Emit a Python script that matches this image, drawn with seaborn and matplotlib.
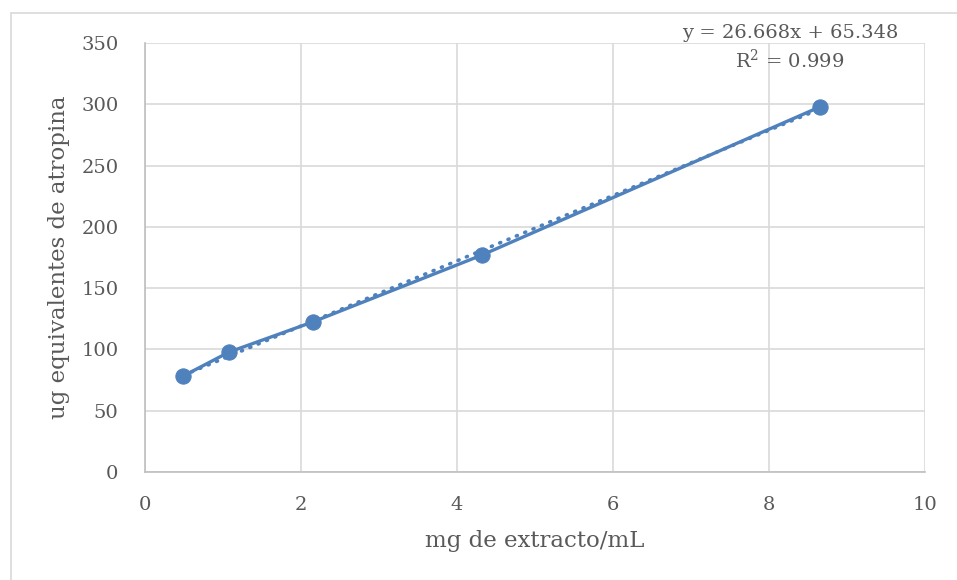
import matplotlib
matplotlib.use("Agg")
import matplotlib.pyplot as plt
import seaborn as sns
import pandas as pd
from matplotlib.lines import Line2D

# Data
conc_mg_ml = [0.49, 1.08, 2.15, 4.32, 8.65]
atropina_ug = [78.3, 97.9, 122.4, 177.0, 297.8]
x_ticks = [0, 2, 4, 6, 8, 10]
y_ticks = [0, 50, 100, 150, 200, 250, 300, 350]
eq_text = "y = 26.668x + 65.348"
r2_text = "R$^2$ = 0.999"
x_label = "mg de extracto/mL"
y_label = "ug equivalentes de atropina"

df = pd.DataFrame({"x": conc_mg_ml, "y": atropina_ug})

sns.set_theme(style="white")
plt.rcParams["font.family"] = ["DejaVu Serif"]
plt.rcParams["mathtext.fontset"] = "dejavuserif"
blue = "#4F81BD"
txt = "#595959"
grid = "#D9D9D9"

fig = plt.figure(figsize=(9.57, 5.8), dpi=100)
ax = fig.add_axes([145 / 957, 1 - 472 / 580, 780 / 957, 429 / 580])

ax.set_axisbelow(True)
for xt in x_ticks:
    ax.axvline(xt, color=grid, lw=1.2, zorder=0)
for yt in y_ticks:
    ax.axhline(yt, color=grid, lw=1.2, zorder=0)

sns.regplot(data=df, x="x", y="y", ax=ax, scatter=False, ci=None,
            line_kws=dict(color=blue, lw=2.6, linestyle=(0, (0.3, 2.2)),
                          dash_capstyle="round", zorder=2))
sns.lineplot(data=df, x="x", y="y", ax=ax, color=blue, lw=2.4,
             marker="o", markersize=11, markeredgecolor=blue,
             markerfacecolor=blue, zorder=3)

ax.set_xlim(0, 10)
ax.set_ylim(0, 350)
ax.set_xticks(x_ticks)
ax.set_yticks(y_ticks)
ax.tick_params(axis="both", labelsize=14, colors=txt, length=0)
ax.tick_params(axis="x", pad=17)
ax.tick_params(axis="y", pad=19)
for lab in ax.get_xticklabels() + ax.get_yticklabels():
    lab.set_color(txt)
ax.set_xlabel(x_label, fontsize=16.5, color=txt, labelpad=12)
ax.set_ylabel(y_label, fontsize=16.5, color=txt, labelpad=8)

for s in ["top", "right"]:
    ax.spines[s].set_visible(False)
ax.spines["left"].set_color("#BFBFBF")
ax.spines["bottom"].set_color("#BFBFBF")
ax.spines["left"].set_linewidth(1.2)
ax.spines["bottom"].set_linewidth(1.2)

fig.text(790 / 957, 1 - 33 / 580, eq_text, ha="center", va="center",
         fontsize=14, color=txt)
fig.text(790 / 957, 1 - 60 / 580, r2_text, ha="center", va="center",
         fontsize=14, color=txt)

# chart-area border (partially visible)
fig.add_artist(Line2D([10.5 / 957, 10.5 / 957], [0, 1 - 12.5 / 580],
                      transform=fig.transFigure, color="#D9D9D9", lw=1.2))
fig.add_artist(Line2D([10.5 / 957, 1], [1 - 12.5 / 580, 1 - 12.5 / 580],
                      transform=fig.transFigure, color="#D9D9D9", lw=1.2))

fig.savefig("out.png", dpi=100, facecolor="white")
